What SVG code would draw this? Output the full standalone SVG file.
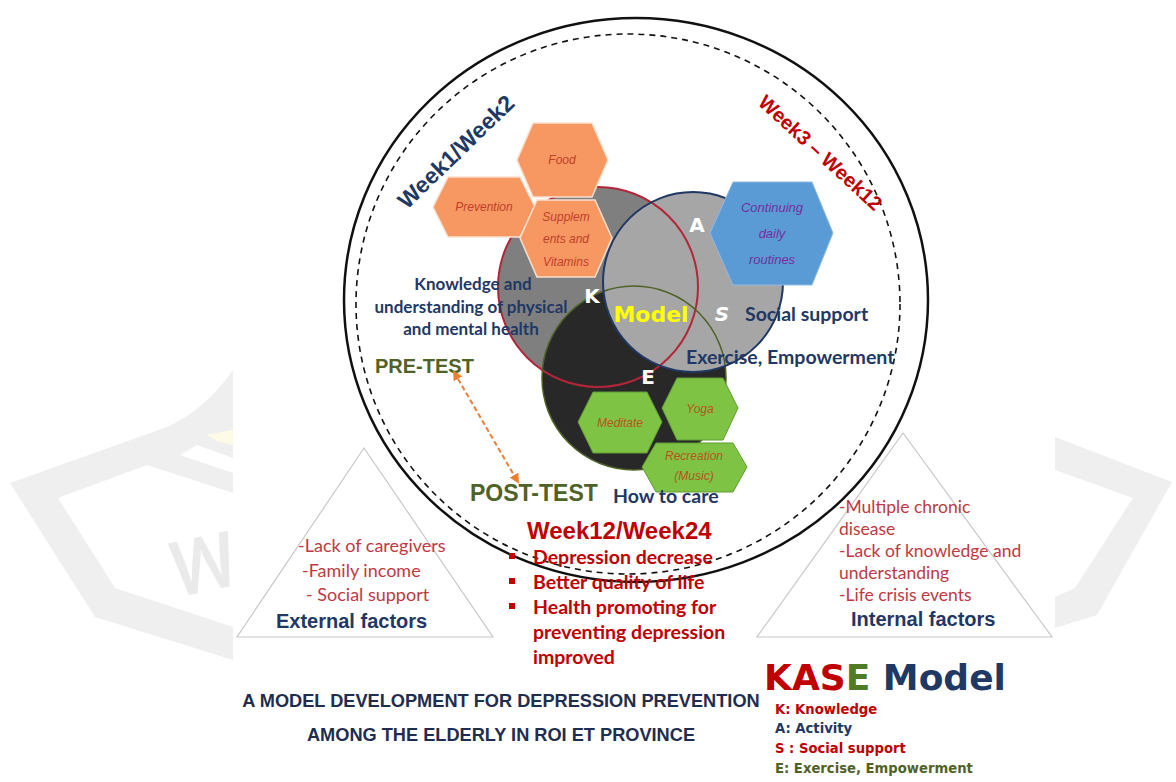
<svg xmlns="http://www.w3.org/2000/svg" width="1176" height="782" viewBox="0 0 1176 782">
  <style>
    .cal { font-family: Lato, "Liberation Sans", sans-serif; }
    .ari { font-family: "Liberation Sans", Arial, sans-serif; }
    .brl { font-family: "DejaVu Sans", "Liberation Sans", sans-serif; font-weight: bold; }
    .navy { fill: #1f3864; }
    .red { fill: #c00000; }
    .hexO { fill: #f79862; stroke: #fbe0cf; stroke-width: 1.5; }
    .hexB { fill: #5b9bd5; stroke: #8fb9e3; stroke-width: 1; }
    .hexG { fill: #7fc345; stroke: #5f9c32; stroke-width: 1; }
    .htO { font-family: "Liberation Sans", Arial, sans-serif; font-style: italic; font-size: 12px; fill: #c0402a; text-anchor: middle; }
    .htB { font-family: "Liberation Sans", Arial, sans-serif; font-style: italic; font-size: 13px; fill: #7030a0; text-anchor: middle; }
    .htG { font-family: "Liberation Sans", Arial, sans-serif; font-style: italic; font-size: 12px; fill: #b5561b; text-anchor: middle; }
    .letter { font-family: "DejaVu Sans", sans-serif; font-weight: bold; font-size: 20px; fill: #ffffff; text-anchor: middle; }
    .tri { fill: none; stroke: #c8c8c8; stroke-width: 1.2; }
    .riskL { font-family: Lato, "Liberation Sans", sans-serif; font-size: 18px; fill: #c0393f; }
    .riskR { font-family: Lato, "Liberation Sans", sans-serif; font-size: 17.5px; fill: #c0393f; }
  </style>
  <defs>
    <marker id="arrO" viewBox="0 0 10 10" refX="8" refY="5" markerWidth="5" markerHeight="5" orient="auto-start-reverse">
      <path d="M0,0 L10,5 L0,10 z" fill="#ed7d31"/>
    </marker>
    <clipPath id="leftSide"><rect x="0" y="0" width="233" height="782"/></clipPath>
  </defs>

  <rect width="1176" height="782" fill="#ffffff"/>

  <!-- faint emblem behind the page, visible at both sides -->
  <g id="emblem" fill="#efefef">
    <path d="M233,370 Q205,410 167,427 L10,483 L95,617 L233,660 L233,627 L115,588 L58,498 L147,465 L233,493 L233,473 L180,455 L197,445 L233,458 L233,445 L218,441 L207,435 L233,430 Z"/>
    <path d="M207,435 L233,430 L233,445 L218,441 Z" fill="#fdfbe4"/>
    <text x="168" y="592" font-family="'Noto Sans Thai', 'Noto Sans', sans-serif" font-size="100" fill="#eaeaea" clip-path="url(#leftSide)" transform="rotate(-12 200 560)">พ</text>
    <path d="M1055,437 L1172,482 L1097,615 L1055,628 L1055,597 L1075,588 L1133,498 L1055,470 Z"/>
  </g>

  <!-- outer time frame -->
  <g id="frame">
    <ellipse cx="636" cy="300" rx="292" ry="282" fill="none" stroke="#111" stroke-width="2.5"/>
    <ellipse cx="628" cy="304" rx="272" ry="270" fill="none" stroke="#111" stroke-width="1.6" stroke-dasharray="6 5"/>
  </g>

  <!-- KASE circles -->
  <g id="circle-K"><circle cx="598" cy="287" r="100" fill="#7f7f7f"/></g>
  <g id="circle-E"><circle cx="634" cy="378" r="92" fill="#282828"/></g>
  <g id="circle-A"><circle cx="693" cy="282" r="90" fill="#a6a6a6"/></g>
  <g id="circle-outlines" fill="none">
    <circle cx="598" cy="287" r="100" stroke="#b3263a" stroke-width="2"/>
    <circle cx="634" cy="378" r="92" stroke="#4f6228" stroke-width="1.5"/>
    <circle cx="693" cy="282" r="90" stroke="#1f3864" stroke-width="2"/>
  </g>

  <!-- knowledge hexagons -->
  <g id="hex-food">
    <polygon class="hexO" points="517,160 533,123 592,123 608,160 592,197 533,197"/>
    <text class="htO" x="562" y="164">Food</text>
  </g>
  <g id="hex-prevention">
    <polygon class="hexO" points="433,207 448,177 520,177 535,207 520,237 448,237"/>
    <text class="htO" x="484" y="211">Prevention</text>
  </g>
  <g id="hex-supplements">
    <polygon class="hexO" points="520,238 537,200 595,200 612,238 595,277 537,277"/>
    <text class="htO" x="566" y="221">Supplem</text>
    <text class="htO" x="566" y="243">ents and</text>
    <text class="htO" x="566" y="266">Vitamins</text>
  </g>

  <!-- activity hexagon -->
  <g id="hex-routines">
    <polygon class="hexB" points="710,233 733,182 812,182 833,233 812,285 733,285"/>
    <text class="htB" x="772" y="212">Continuing</text>
    <text class="htB" x="772" y="238">daily</text>
    <text class="htB" x="772" y="264">routines</text>
  </g>

  <!-- exercise hexagons -->
  <g id="hex-meditate">
    <polygon class="hexG" points="578,422 593,392 647,392 662,422 647,453 593,453"/>
    <text class="htG" x="620" y="427">Meditate</text>
  </g>
  <g id="hex-yoga">
    <polygon class="hexG" points="662,408 677,378 723,378 738,408 723,440 677,440"/>
    <text class="htG" x="700" y="413">Yoga</text>
  </g>
  <g id="hex-recreation">
    <polygon class="hexG" points="642,467 656,443 733,443 747,467 733,492 656,492"/>
    <text class="htG" x="694" y="460">Recreation</text>
    <text class="htG" x="694" y="480" font-size="11.5">(Music)</text>
  </g>

  <!-- circle letters and centre label -->
  <g id="letters">
    <text class="letter" x="592" y="303">K</text>
    <text class="letter" x="697" y="232">A</text>
    <text class="letter" x="722" y="321" font-style="italic">S</text>
    <text class="letter" x="648" y="384">E</text>
    <text class="brl" x="651" y="322" font-size="22" fill="#ffff00" text-anchor="middle">Model</text>
  </g>

  <!-- phase labels -->
  <g id="phase-labels">
    <text class="ari navy" font-weight="bold" font-size="23" x="407" y="210" transform="rotate(-44 407 210)">Week1/Week2</text>
    <text class="ari red" font-weight="bold" font-size="20" x="757" y="104" transform="rotate(42.5 757 104)">Week3 – Week12</text>
  </g>

  <g id="knowledge-label" class="cal navy" font-weight="bold" font-size="17" text-anchor="middle">
    <text x="473" y="290">Knowledge and</text>
    <text x="471" y="313">understanding of physical</text>
    <text x="471" y="335">and mental health</text>
  </g>
  <g id="support-label" class="cal navy" font-weight="bold" font-size="19.5">
    <text x="745" y="321">Social support</text>
    <text x="686" y="364">Exercise, Empowerment</text>
  </g>

  <g id="pre-test"><text class="ari" font-weight="bold" font-size="20" fill="#4f6228" x="375" y="373">PRE-TEST</text></g>
  <g id="post-test"><text class="ari" font-weight="bold" font-size="23" fill="#4f6228" x="470" y="501">POST-TEST</text></g>
  <g id="how-to-care"><text class="cal navy" font-weight="bold" font-size="19.5" x="613" y="503">How to care</text></g>

  <!-- pre-test to post-test link -->
  <g id="connectors">
    <line x1="454" y1="372" x2="518" y2="482" stroke="#ed7d31" stroke-width="2" stroke-dasharray="5 3" marker-start="url(#arrO)" marker-end="url(#arrO)"/>
  </g>

  <!-- outcomes -->
  <g id="outcomes">
    <text class="ari red" font-weight="bold" font-size="24" x="527" y="539">Week12/Week24</text>
    <g class="cal red" font-weight="bold" font-size="19.5">
      <rect x="509" y="553" width="6" height="6" fill="#c00000"/>
      <text x="533" y="564">Depression decrease</text>
      <rect x="509" y="578" width="6" height="6" fill="#c00000"/>
      <text x="533" y="589">Better quality of life</text>
      <rect x="509" y="603" width="6" height="6" fill="#c00000"/>
      <text x="533" y="614">Health promoting for</text>
      <text x="533" y="639">preventing depression</text>
      <text x="533" y="664">improved</text>
    </g>
  </g>

  <!-- external factors -->
  <g id="external-factors">
    <polygon class="tri" points="364,448 237,637 493,637"/>
    <text class="riskL" x="298" y="552">-Lack of caregivers</text>
    <text class="riskL" x="302" y="577">-Family income</text>
    <text class="riskL" x="306" y="601">- Social support</text>
    <text class="ari navy" font-weight="bold" font-size="20" x="276" y="628">External factors</text>
  </g>

  <!-- internal factors -->
  <g id="internal-factors">
    <polygon class="tri" points="903,433 757,637 1052,637"/>
    <text class="riskR" x="839" y="513">-Multiple chronic</text>
    <text class="riskR" x="839" y="535">disease</text>
    <text class="riskR" x="839" y="557">-Lack of knowledge and</text>
    <text class="riskR" x="839" y="579">understanding</text>
    <text class="riskR" x="839" y="601">-Life crisis events</text>
    <text class="ari navy" font-weight="bold" font-size="20" x="851" y="626">Internal factors</text>
  </g>

  <!-- title -->
  <g id="title" class="ari" font-weight="bold" font-size="18.2" fill="#1f2d4e" text-anchor="middle">
    <text x="501" y="707">A MODEL DEVELOPMENT FOR DEPRESSION PREVENTION</text>
    <text x="501" y="741">AMONG THE ELDERLY IN ROI ET PROVINCE</text>
  </g>

  <!-- legend -->
  <g id="legend" class="brl">
    <text x="764" y="690" font-size="36"><tspan fill="#c00000">KAS</tspan><tspan fill="#4f7a28">E</tspan><tspan fill="#1f3864"> Model</tspan></text>
    <g font-size="13.2">
      <text x="775" y="714" fill="#c00000">K: Knowledge</text>
      <text x="775" y="733" fill="#1f3864">A: Activity</text>
      <text x="775" y="753" fill="#c00000">S : Social support</text>
      <text x="775" y="773" fill="#4f6228">E: Exercise, Empowerment</text>
    </g>
  </g>
</svg>
